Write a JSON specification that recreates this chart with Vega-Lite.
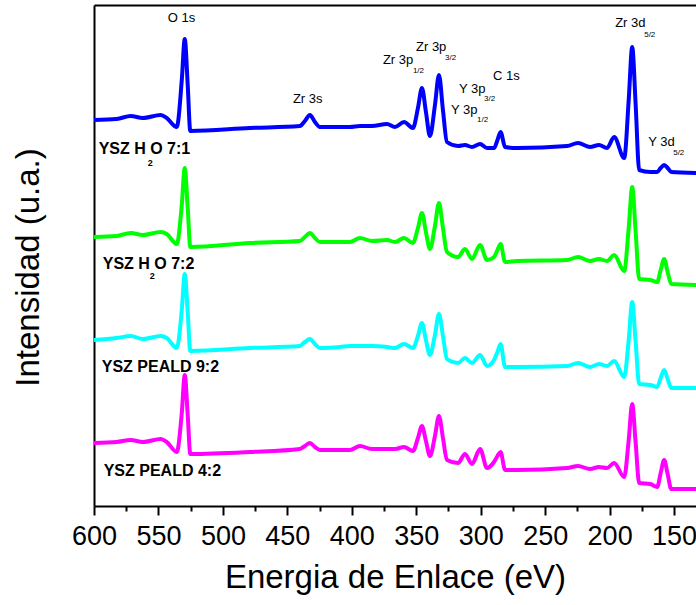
{
  "$schema": "https://vega.github.io/schema/vega-lite/v6.json",
  "width": 602,
  "height": 501,
  "autosize": {"type": "none"},
  "padding": {"left": 94, "top": 5, "right": 0, "bottom": 94},
  "background": "white",
  "config": {"view": {"stroke": null}, "font": "Liberation Sans"},
  "datasets": {
    "spectra": [
      {"energia": 600, "h2o71": 386, "h2o72": 269, "peald92": 166, "peald42": 63},
      {"energia": 582.4, "h2o71": 387, "h2o72": 270, "peald92": 168, "peald42": 64},
      {"energia": 571.5, "h2o71": 390, "h2o72": 273, "peald92": 170, "peald42": 66},
      {"energia": 562.2, "h2o71": 388, "h2o72": 271, "peald92": 167, "peald42": 64},
      {"energia": 548.2, "h2o71": 391, "h2o72": 274, "peald92": 170, "peald42": 67},
      {"energia": 543.6, "h2o71": 388, "h2o72": 272, "peald92": 168, "peald42": 64},
      {"energia": 535.8, "h2o71": 379, "h2o72": 262, "peald92": 158, "peald42": 54},
      {"energia": 531.9, "h2o71": 426, "h2o72": 301, "peald92": 196, "peald42": 93},
      {"energia": 529.6, "h2o71": 467, "h2o72": 338, "peald92": 232, "peald42": 131},
      {"energia": 527.3, "h2o71": 421, "h2o72": 298, "peald92": 194, "peald42": 91},
      {"energia": 525.3, "h2o71": 375, "h2o72": 259, "peald92": 155, "peald42": 52},
      {"energia": 479.1, "h2o71": 378, "h2o72": 263, "peald92": 158, "peald42": 54},
      {"energia": 440.3, "h2o71": 380, "h2o72": 265, "peald92": 160, "peald42": 57},
      {"energia": 436.4, "h2o71": 385, "h2o72": 269, "peald92": 164, "peald42": 60},
      {"energia": 432.5, "h2o71": 391, "h2o72": 273, "peald92": 167, "peald42": 63},
      {"energia": 428.6, "h2o71": 384, "h2o72": 268, "peald92": 162, "peald42": 59},
      {"energia": 424.8, "h2o71": 379, "h2o72": 264, "peald92": 158, "peald42": 56},
      {"energia": 409.2, "h2o71": 379, "h2o72": 264, "peald92": 159, "peald42": 56},
      {"energia": 401.5, "h2o71": 379, "h2o72": 264, "peald92": 160, "peald42": 56},
      {"energia": 393.7, "h2o71": 380, "h2o72": 268, "peald92": 160, "peald42": 60},
      {"energia": 384.4, "h2o71": 380, "h2o72": 265, "peald92": 160, "peald42": 57},
      {"energia": 372.7, "h2o71": 382, "h2o72": 266, "peald92": 159, "peald42": 57},
      {"energia": 366.5, "h2o71": 379, "h2o72": 264, "peald92": 158, "peald42": 57},
      {"energia": 359.5, "h2o71": 384, "h2o72": 268, "peald92": 162, "peald42": 59},
      {"energia": 352.6, "h2o71": 378, "h2o72": 263, "peald92": 158, "peald42": 55},
      {"energia": 348.7, "h2o71": 398, "h2o72": 278, "peald92": 170, "peald42": 68},
      {"energia": 345.6, "h2o71": 418, "h2o72": 293, "peald92": 183, "peald42": 80},
      {"energia": 342.5, "h2o71": 394, "h2o72": 274, "peald92": 166, "peald42": 65},
      {"energia": 339.4, "h2o71": 370, "h2o72": 257, "peald92": 151, "peald42": 50},
      {"energia": 335.5, "h2o71": 401, "h2o72": 280, "peald92": 171, "peald42": 70},
      {"energia": 332.4, "h2o71": 431, "h2o72": 303, "peald92": 192, "peald42": 90},
      {"energia": 329.3, "h2o71": 396, "h2o72": 278, "peald92": 170, "peald42": 68},
      {"energia": 326.2, "h2o71": 364, "h2o72": 254, "peald92": 147, "peald42": 46},
      {"energia": 317.6, "h2o71": 360, "h2o72": 249, "peald92": 143, "peald42": 43},
      {"energia": 312.2, "h2o71": 361, "h2o72": 257, "peald92": 148, "peald42": 52},
      {"energia": 306.8, "h2o71": 359, "h2o72": 247, "peald92": 143, "peald42": 42},
      {"energia": 300.5, "h2o71": 362, "h2o72": 261, "peald92": 151, "peald42": 57},
      {"energia": 295.1, "h2o71": 358, "h2o72": 246, "peald92": 140, "peald42": 38},
      {"energia": 289.7, "h2o71": 358, "h2o72": 249, "peald92": 146, "peald42": 44},
      {"energia": 287.0, "h2o71": 366, "h2o72": 256, "peald92": 154, "peald42": 50},
      {"energia": 284.6, "h2o71": 374, "h2o72": 262, "peald92": 162, "peald42": 54},
      {"energia": 281.1, "h2o71": 359, "h2o72": 244, "peald92": 139, "peald42": 36},
      {"energia": 271.8, "h2o71": 358, "h2o72": 245, "peald92": 139, "peald42": 36},
      {"energia": 233.0, "h2o71": 360, "h2o72": 246, "peald92": 140, "peald42": 38},
      {"energia": 224.5, "h2o71": 363, "h2o72": 249, "peald92": 143, "peald42": 40},
      {"energia": 215.2, "h2o71": 359, "h2o72": 245, "peald92": 139, "peald42": 37},
      {"energia": 208.2, "h2o71": 361, "h2o72": 247, "peald92": 142, "peald42": 39},
      {"energia": 202.0, "h2o71": 358, "h2o72": 245, "peald92": 140, "peald42": 38},
      {"energia": 196.5, "h2o71": 369, "h2o72": 251, "peald92": 145, "peald42": 43},
      {"energia": 188.7, "h2o71": 348, "h2o72": 235, "peald92": 129, "peald42": 29},
      {"energia": 185.2, "h2o71": 406, "h2o72": 278, "peald92": 166, "peald42": 66},
      {"energia": 182.5, "h2o71": 459, "h2o72": 319, "peald92": 204, "peald42": 102},
      {"energia": 179.8, "h2o71": 401, "h2o72": 274, "peald92": 164, "peald42": 63},
      {"energia": 177.1, "h2o71": 336, "h2o72": 227, "peald92": 122, "peald42": 23},
      {"energia": 168.5, "h2o71": 334, "h2o72": 226, "peald92": 121, "peald42": 22},
      {"energia": 163.1, "h2o71": 334, "h2o72": 224, "peald92": 119, "peald42": 19},
      {"energia": 160.4, "h2o71": 338, "h2o72": 236, "peald92": 128, "peald42": 33},
      {"energia": 157.7, "h2o71": 341, "h2o72": 247, "peald92": 136, "peald42": 46},
      {"energia": 155.0, "h2o71": 338, "h2o72": 234, "peald92": 127, "peald42": 32},
      {"energia": 152.2, "h2o71": 334, "h2o72": 222, "peald92": 118, "peald42": 17},
      {"energia": 133, "h2o71": 333, "h2o72": 221, "peald92": 118, "peald42": 17}
    ],
    "peaks": [
      {"energia": 542.8, "intensidad": 488, "etiqueta": "O 1s"},
      {"energia": 445.7, "intensidad": 407.5, "etiqueta": "Zr 3s"},
      {"energia": 375.9, "intensidad": 446, "etiqueta": "Zr 3p"},
      {"energia": 350.2, "intensidad": 459, "etiqueta": "Zr 3p"},
      {"energia": 290.4, "intensidad": 430.5, "etiqueta": "C 1s"},
      {"energia": 316.8, "intensidad": 417.5, "etiqueta": "Y 3p"},
      {"energia": 323, "intensidad": 396, "etiqueta": "Y 3p"},
      {"energia": 195.7, "intensidad": 483, "etiqueta": "Zr 3d"},
      {"energia": 170.1, "intensidad": 364.5, "etiqueta": "Y 3d"}
    ],
    "subs": [
      {"energia": 352.6, "intensidad": 435.5, "etiqueta": "1/2"},
      {"energia": 327.7, "intensidad": 448.5, "etiqueta": "3/2"},
      {"energia": 297.4, "intensidad": 407.5, "etiqueta": "3/2"},
      {"energia": 302.9, "intensidad": 386, "etiqueta": "1/2"},
      {"energia": 173.2, "intensidad": 471.5, "etiqueta": "5/2"},
      {"energia": 150.7, "intensidad": 353.5, "etiqueta": "5/2"}
    ],
    "samples": [
      {"energia": 596.4, "intensidad": 357, "etiqueta": "YSZ H O 7:1"},
      {"energia": 593.2, "intensidad": 242, "etiqueta": "YSZ H O 7:2"},
      {"energia": 594, "intensidad": 139.5, "etiqueta": "YSZ PEALD 9:2"},
      {"energia": 592.5, "intensidad": 35.5, "etiqueta": "YSZ PEALD 4:2"}
    ],
    "samplesubs": [
      {"energia": 556.4, "intensidad": 343.5, "etiqueta": "2"},
      {"energia": 554.9, "intensidad": 230, "etiqueta": "2"}
    ]
  },
  "resolve": {"axis": {"x": "independent"}},
  "layer": [
    {
      "data": {"name": "spectra"},
      "transform": [{"fold": ["h2o71", "h2o72", "peald92", "peald42"], "as": ["muestra", "intensidad"]}],
      "mark": {"type": "line", "strokeWidth": 4, "interpolate": "monotone"},
      "encoding": {
        "x": {
          "field": "energia", "type": "quantitative",
          "scale": {"domain": [600, 133], "nice": false, "zero": false},
          "axis": {
            "title": "Energia de Enlace (eV)",
            "orient": "bottom",
            "values": [600, 575, 550, 525, 500, 475, 450, 425, 400, 375, 350, 325, 300, 275, 250, 225, 200, 175, 150],
            "labelExpr": "datum.value % 50 === 0 ? datum.label : ''",
            "tickSize": {"condition": {"test": "datum.value % 50 === 0", "value": 9}, "value": 5},
            "tickWidth": 2, "tickColor": "black",
            "domainColor": "black", "domainWidth": 2,
            "labelFont": "Liberation Sans Narrow, Liberation Sans", "labelFontSize": 27, "labelColor": "black",
            "labelPadding": 8, "labelFlush": false, "labelOverlap": false, "labelBound": false,
            "grid": false,
            "titleFont": "Liberation Sans", "titleFontSize": 33, "titleFontWeight": "normal", "titleColor": "black",
            "titlePadding": 12
          }
        },
        "y": {
          "field": "intensidad", "type": "quantitative",
          "scale": {"domain": [0, 501], "nice": false, "zero": false},
          "axis": {
            "title": "Intensidad (u.a.)",
            "labels": false, "ticks": false, "grid": false,
            "domainColor": "black", "domainWidth": 2,
            "titleFont": "Liberation Sans", "titleFontSize": 33, "titleFontWeight": "normal", "titleColor": "black",
            "titlePadding": 49, "titleY": 262
          }
        },
        "color": {
          "field": "muestra", "type": "nominal",
          "scale": {"domain": ["h2o71", "h2o72", "peald92", "peald42"], "range": ["#0000ff", "#00ff00", "#00ffff", "#ff00ff"]},
          "legend": null
        },
        "order": {"field": "energia", "sort": "descending"}
      }
    },
    {
      "data": {"name": "peaks"},
      "mark": {"type": "text", "align": "left", "baseline": "middle", "fontSize": 13, "font": "Liberation Sans", "color": "black"},
      "encoding": {
        "x": {"field": "energia", "type": "quantitative",
          "axis": {"orient": "top", "labels": false, "ticks": false, "grid": false, "title": null, "domainColor": "black", "domainWidth": 2}},
        "y": {"field": "intensidad", "type": "quantitative"},
        "text": {"field": "etiqueta"}
      }
    },
    {
      "data": {"name": "subs"},
      "mark": {"type": "text", "align": "left", "baseline": "middle", "fontSize": 8, "font": "Liberation Sans", "color": "black"},
      "encoding": {
        "x": {"field": "energia", "type": "quantitative", "axis": null},
        "y": {"field": "intensidad", "type": "quantitative"},
        "text": {"field": "etiqueta"}
      }
    },
    {
      "data": {"name": "samples"},
      "mark": {"type": "text", "align": "left", "baseline": "middle", "fontSize": 16, "fontWeight": "bold", "font": "Liberation Sans", "color": "black"},
      "encoding": {
        "x": {"field": "energia", "type": "quantitative", "axis": null},
        "y": {"field": "intensidad", "type": "quantitative"},
        "text": {"field": "etiqueta"}
      }
    },
    {
      "data": {"name": "samplesubs"},
      "mark": {"type": "text", "align": "center", "baseline": "middle", "fontSize": 9, "fontWeight": "bold", "font": "Liberation Sans", "color": "black"},
      "encoding": {
        "x": {"field": "energia", "type": "quantitative", "axis": null},
        "y": {"field": "intensidad", "type": "quantitative"},
        "text": {"field": "etiqueta"}
      }
    }
  ]
}
